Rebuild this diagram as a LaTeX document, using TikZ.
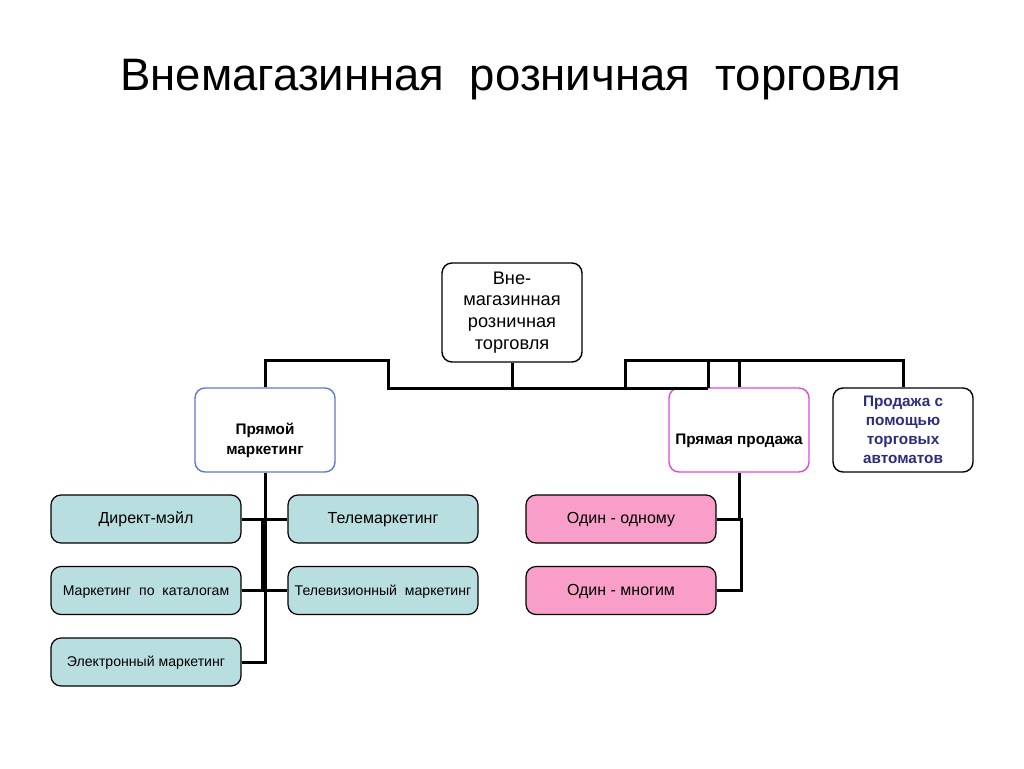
\documentclass[tikz,border=0pt]{standalone}
\usepackage{fontspec}
\setmainfont{Liberation Sans}
\usepackage{tikz}
\usetikzlibrary{shapes,positioning}
\definecolor{teal box}{RGB}{185,222,224}
\definecolor{pink box}{RGB}{249,158,200}
\definecolor{blue edge}{RGB}{95,120,205}
\definecolor{pink edge}{RGB}{225,70,225}
\definecolor{navy text}{RGB}{45,45,125}

\begin{document}
\begin{tikzpicture}[x=1pt,y=1pt]
		\tikzstyle{every node}+=[inner sep=0pt, align=center]
		\tikzstyle{box}=[draw=black, line width=1.4pt, rounded corners=10pt, fill=white]
		\tikzstyle{head}=[box, minimum width=140pt, minimum height=84pt, font=\bfseries\fontsize{15.3}{19.5}\selectfont]
		\tikzstyle{leaf}=[box, line width=1.2pt, minimum width=190pt, minimum height=48pt, text height=13pt, text depth=3.5pt, font=\fontsize{16}{19}\selectfont]
		\tikzstyle{small leaf}=[leaf, text height=12pt, text depth=3pt, font=\fontsize{14.1}{17}\selectfont]
		\tikzstyle{link}=[black, line width=3pt]
		\useasboundingbox (0,0) rectangle (1024,-768);
		% title
		\node (title) at (511,-80) {\fontsize{45.5}{54}\selectfont Внемагазинная\ \ розничная\ \ торговля};
		% top level
		\node [box, minimum width=140pt, minimum height=99pt, font=\fontsize{18.2}{21.8}\selectfont] (root) at (512,-312.5) {Вне-\\магазинная\\розничная\\торговля};
		\node [head, draw=blue edge] (pm) at (265,-430) {\mbox{}\\[12.5pt]Прямой\\маркетинг};
		\node [head, draw=pink edge] (pp) at (739,-430) {\mbox{}\\[12.5pt]Прямая продажа};
		\node [head, text=navy text, font=\bfseries\fontsize{15.3}{19}\selectfont] (va) at (903,-430) {Продажа с\\помощью\\торговых\\автоматов};
		% children
		\node [leaf, fill=teal box] (dm) at (146,-519) {Директ-мэйл};
		\node [leaf, fill=teal box] (tm) at (383,-519) {Телемаркетинг};
		\node [small leaf, fill=teal box] (kat) at (146,-590.5) {Маркетинг\ \ по\ \ каталогам};
		\node [small leaf, fill=teal box] (tv) at (383,-590.5) {Телевизионный\ \ маркетинг};
		\node [small leaf, fill=teal box] (em) at (146,-662) {Электронный маркетинг};
		\node [leaf, fill=pink box] (one) at (621,-519) {Один - одному};
		\node [leaf, fill=pink box] (many) at (621,-590.5) {Один - многим};
		% bus
		\coordinate (topL) at (388,-360);
		\coordinate (busL) at (388,-388);
		\coordinate (busR) at (708,-388);
		\coordinate (topR) at (625,-360);
		\draw [link] (pm.north) |- (topL) -- (busL) -- (busR);
		\draw [link] (root.south) -- (root.south |- busL);
		\draw [link] (topR |- busL) -- (topR) -| (va.north);
		\draw [link] (busR) -- (busR |- topR);
		\draw [link] (pp.north) -- (pp.north |- topR);
		% left branch
		\draw [link] (pm.south) -- (pm.south |- em.east) -- (em.east);
		\draw [link] ([xshift=-3pt]pm.south |- dm.east) -- ([xshift=-3pt]pm.south |- kat.east);
		\draw [link] (dm.east) -- (tm.west);
		\draw [link] (kat.east) -- (tv.west);
		% right branch
		\draw [link] (pp.south) -- (pp.south |- one.east) -- (one.east);
		\draw [link] (one.east) -- ++(25,0) |- (many.east);
\end{tikzpicture}
\end{document}
